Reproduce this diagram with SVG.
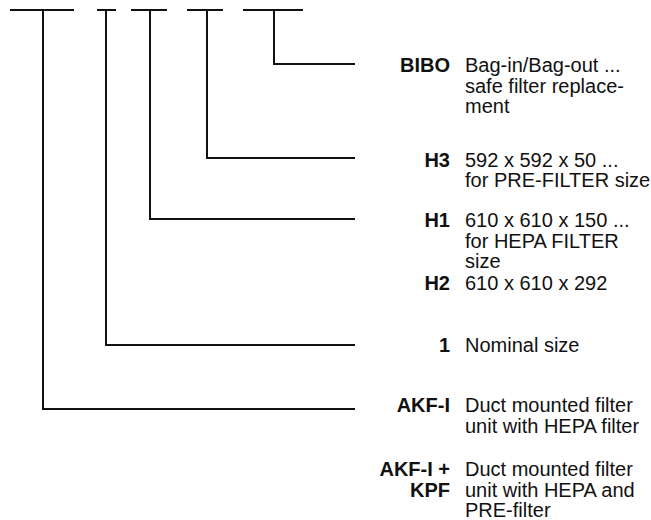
<svg xmlns="http://www.w3.org/2000/svg" width="651" height="520" viewBox="0 0 651 520">
<style>
.ln{fill:none;stroke:#111;stroke-width:2;stroke-linejoin:miter;stroke-linecap:butt}
.lb{font-family:"Liberation Sans",Arial,sans-serif;font-size:20px;font-weight:bold;fill:#111;text-anchor:end}
.tx{font-family:"Liberation Sans",Arial,sans-serif;font-size:20px;fill:#111}
</style>
<rect width="651" height="520" fill="#fff"/>
<g id="connectors">
<path class="ln" d="M10 10H74M43 10V409H355"/>
<path class="ln" d="M97 10H116M106 10V345H355"/>
<path class="ln" d="M131 10H167M150 10V219H355"/>
<path class="ln" d="M187 10H223M207 10V158H355"/>
<path class="ln" d="M243 10H303M274 10V64H355"/>
</g>
<g id="node-bibo">
<text class="lb" x="450" y="72">BIBO</text>
<text class="tx" x="465" y="72">Bag-in/Bag-out ...</text>
<text class="tx" x="465" y="93">safe filter replace-</text>
<text class="tx" x="465" y="113">ment</text>
</g>
<g id="node-h3">
<text class="lb" x="450" y="167">H3</text>
<text class="tx" x="465" y="167">592 x 592 x 50 ...</text>
<text class="tx" x="465" y="187">for PRE-FILTER size</text>
</g>
<g id="node-h1">
<text class="lb" x="450" y="227">H1</text>
<text class="tx" x="465" y="227">610 x 610 x 150 ...</text>
<text class="tx" x="465" y="248">for HEPA FILTER</text>
<text class="tx" x="465" y="268">size</text>
<text class="lb" x="450" y="290">H2</text>
<text class="tx" x="465" y="290">610 x 610 x 292</text>
</g>
<g id="node-1">
<text class="lb" x="450" y="352">1</text>
<text class="tx" x="465" y="352">Nominal size</text>
</g>
<g id="node-akf">
<text class="lb" x="450" y="412">AKF-I</text>
<text class="tx" x="465" y="412">Duct mounted filter</text>
<text class="tx" x="465" y="433">unit with HEPA filter</text>
</g>
<g id="node-akf-kpf">
<text class="lb" x="450" y="476">AKF-I +</text>
<text class="lb" x="450" y="497">KPF</text>
<text class="tx" x="465" y="476">Duct mounted filter</text>
<text class="tx" x="465" y="497">unit with HEPA and</text>
<text class="tx" x="465" y="517">PRE-filter</text>
</g>
</svg>
